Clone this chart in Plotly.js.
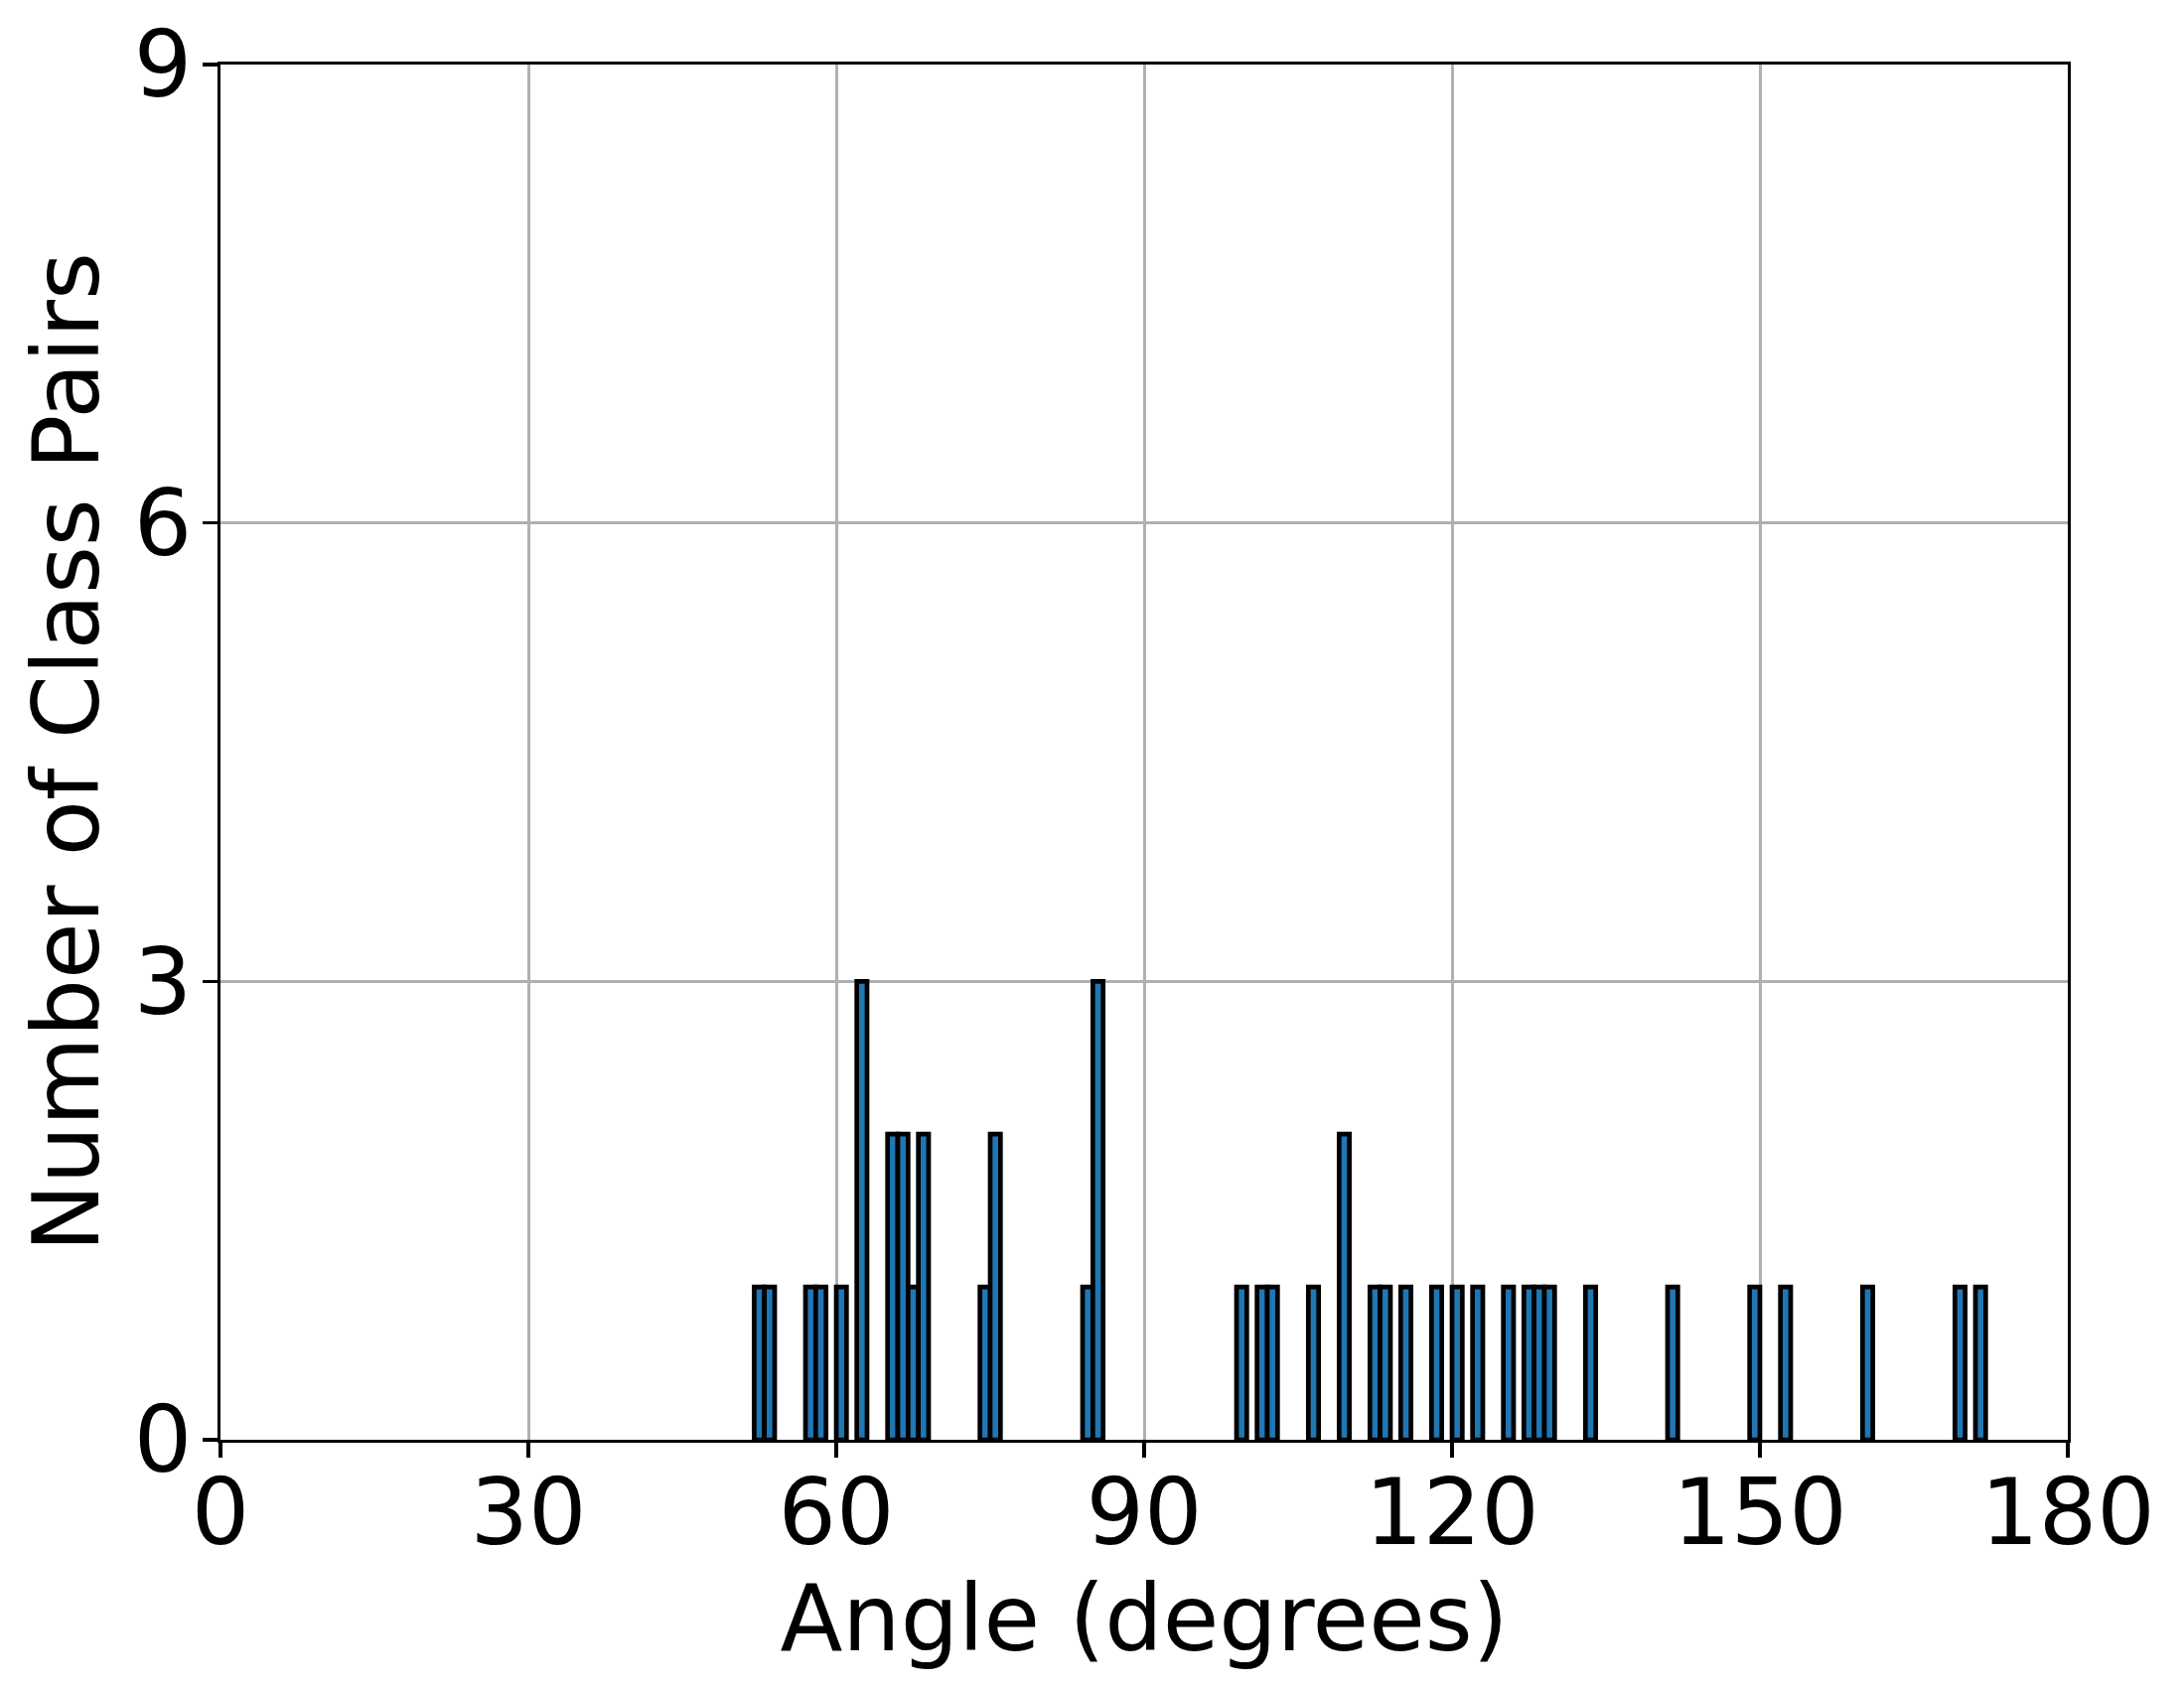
<!DOCTYPE html>
<html>
<head>
<meta charset="utf-8">
<script src="https://cdn.plot.ly/plotly-3.0.1.min.js"></script>
<style>html,body{margin:0;padding:0;background:#fff;}#chart{width:2199px;height:1702px;}</style>
</head>
<body>
<div id="chart"></div>
<script>
// Histogram bins (1-degree wide, left edge in degrees) and counts
const binStart = [52, 53, 57, 58, 60, 62, 65, 66, 67, 68, 74, 75, 84, 85, 99, 101, 102, 106, 109, 112, 113, 115, 118, 120, 122, 125, 127, 128, 129, 133, 141, 149, 152, 160, 169, 171];
const counts   = [1,  1,  1,  1,  1,  3,  2,  2,  1,  2,  1,  2,  1,  3,  1,  1,   1,   1,   2,   1,   1,   1,   1,   1,   1,   1,   1,   1,   1,   1,   1,   1,   1,   1,   1,   1];
const xTicks = [0, 30, 60, 90, 120, 150, 180];
const yTicks = [0, 3, 6, 9];
const binWidth = 1;

const trace = {
  type: 'bar',
  x: binStart.map(v => v + binWidth / 2),
  y: counts,
  width: binStart.map(() => binWidth),
  marker: {color: '#1f77b4', line: {color: '#000000', width: 4.7}},
  hoverinfo: 'x+y'
};

const font = {family: 'DejaVu Sans, sans-serif', size: 92, color: '#000'};

const layout = {
  width: 2199, height: 1702,
  paper_bgcolor: '#fff', plot_bgcolor: '#fff',
  margin: {l: 222, r: 117, t: 65, b: 252},
  showlegend: false,
  bargap: 0,
  font: font,
  xaxis: {
    range: [0, 180], tickvals: xTicks, ticktext: xTicks.map(String),
    ticks: 'outside', ticklen: 15, tickwidth: 3.3, tickcolor: '#000',
    showline: true, linecolor: '#000', linewidth: 3.3, mirror: true,
    showgrid: true, gridcolor: '#b0b0b0', gridwidth: 3,
    zeroline: false, tickfont: font, ticklabelstandoff: -24,
    automargin: false,
    title: {text: 'Angle (degrees)', font: font, standoff: 13}
  },
  yaxis: {
    range: [0, 9], tickvals: yTicks, ticktext: yTicks.map(String),
    ticks: 'outside', ticklen: 15, tickwidth: 3.3, tickcolor: '#000',
    showline: true, linecolor: '#000', linewidth: 3.3, mirror: true,
    showgrid: true, gridcolor: '#b0b0b0', gridwidth: 3,
    zeroline: false, tickfont: font, ticklabelstandoff: -8,
    automargin: false,
    title: {text: 'Number of Class Pairs', font: font, standoff: 5}
  }
};

Plotly.newPlot('chart', [trace], layout, {staticPlot: true, displayModeBar: false});
</script>
</body>
</html>
